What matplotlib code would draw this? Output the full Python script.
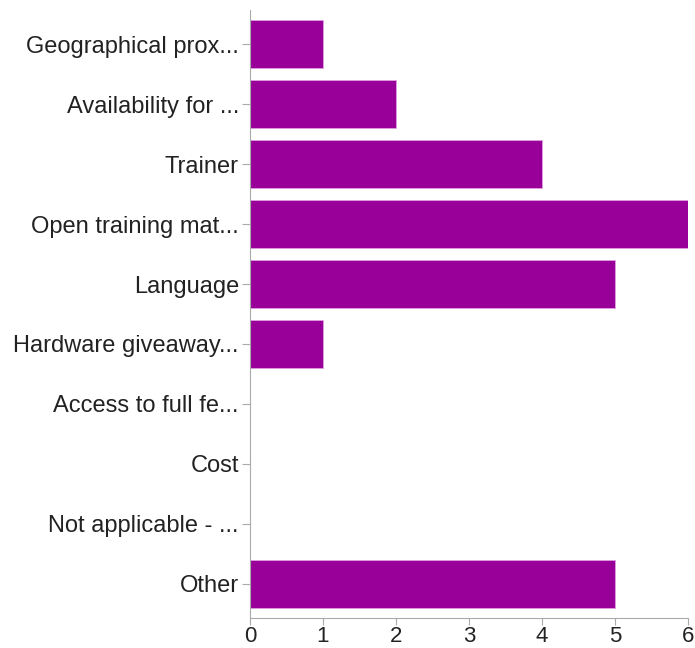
import matplotlib.pyplot as plt

categories = ["Geographical prox...", "Availability for ...", "Trainer",
              "Open training mat...", "Language", "Hardware giveaway...",
              "Access to full fe...", "Cost", "Not applicable - ...", "Other"]
counts = [1, 2, 4, 6, 5, 1, 0, 0, 0, 5]
x_ticks = [0, 1, 2, 3, 4, 5, 6]

plt.rcParams['font.family'] = ['Liberation Sans', 'DejaVu Sans']

fig = plt.figure(figsize=(6.95, 6.48), dpi=100)
ax = fig.add_axes([250 / 695, 1 - 618 / 648, 438 / 695, 608 / 648])

pos = list(range(len(categories)))
ax.barh(pos, counts, height=0.8, color="#990099", edgecolor="#e0a0e0", linewidth=0.6)

ax.set_ylim(len(categories) - 0.43, -0.57)
ax.set_xlim(0, 6)
ax.set_yticks(pos)
ax.set_yticklabels(categories, fontsize=17, color="#222222")
ax.set_xticks(x_ticks)
ax.set_xticklabels([str(t) for t in x_ticks], fontsize=16, color="#222222")

for s in ["top", "right"]:
    ax.spines[s].set_visible(False)
for s in ["left", "bottom"]:
    ax.spines[s].set_color("#aaaaaa")
ax.tick_params(axis="both", colors="#aaaaaa", labelcolor="#222222", length=6)
ax.tick_params(axis="y", pad=2)
ax.tick_params(axis="x", length=5, pad=1)

fig.savefig("out.png", dpi=100)
